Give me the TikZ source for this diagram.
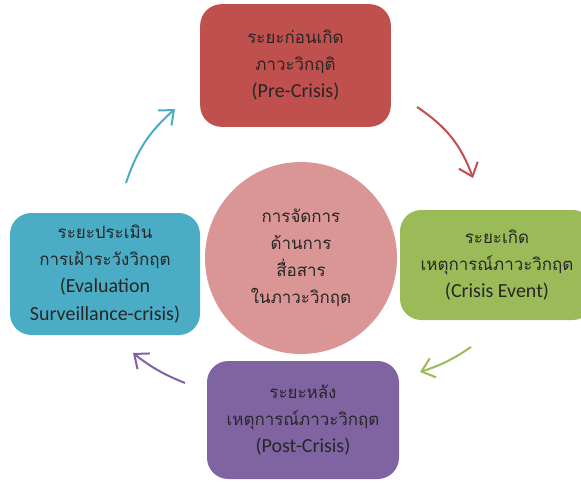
\documentclass[tikz,border=0pt]{standalone}
\usepackage{fontspec}
\setmainfont{Carlito}[Scale=1.18]
\newfontfamily\thaifont[Script=Thai]{Loma}
\usetikzlibrary{arrows.meta}
\definecolor{prered}{HTML}{C0504D}
\definecolor{eventgreen}{HTML}{9BBB59}
\definecolor{postpurple}{HTML}{8064A2}
\definecolor{evalblue}{HTML}{4BACC6}
\definecolor{hubpink}{HTML}{D99694}
\begin{document}
\begin{tikzpicture}[
			x=0.75pt, y=-0.75pt,
			every node/.style={inner sep=2pt, text=black!85, font=\fontsize{12.7}{20.3}\selectfont},
			phase/.style={rounded corners=16pt, align=center},
			hub/.style={circle, fill=hubpink, minimum size=144pt, align=center},
			cycle arrow/.style={line width=1.5pt, -{Straight Barb[length=9pt, width=15pt]}}
		]
		\clip (0,0) rectangle (581,482);
		% the four phases
		\node[phase, fill=prered, minimum width=143pt, minimum height=92pt] (pre) at (295.5,65.5)
			{\thaifont ระยะก่อนเกิด\\\thaifont ภาวะวิกฤติ\\(Pre-Crisis)};
		\node[phase, fill=eventgreen, minimum width=145.5pt, minimum height=82.5pt] (event) at (497,265)
			{\thaifont ระยะเกิด\\\thaifont เหตุการณ์ภาวะวิกฤต\\(Crisis Event)};
		\node[phase, fill=postpurple, minimum width=144pt, minimum height=88.5pt] (post) at (303,420)
			{\thaifont ระยะหลัง\\\thaifont เหตุการณ์ภาวะวิกฤต\\(Post-Crisis)};
		\node[phase, fill=evalblue, minimum width=142.5pt, minimum height=91.5pt] (eval) at (105,274)
			{\thaifont ระยะประเมิน\\\thaifont การเฝ้าระวังวิกฤต\\(Evaluation\\Surveillance-crisis)};
		% centre
		\node[hub] (hub) at (301,258)
			{\thaifont การจัดการ\\\thaifont ด้านการ\\\thaifont สื่อสาร\\\thaifont ในภาวะวิกฤต};
		% arrows between phases
		\coordinate (pre out) at (417,107);
		\coordinate (event in) at (473,178);
		\coordinate (event out) at (471,347);
		\coordinate (post in) at (420,372);
		\coordinate (post out) at (185,383);
		\coordinate (eval in) at (133,353);
		\coordinate (eval out) at (126,183);
		\coordinate (pre in) at (175,109);
		\draw[cycle arrow, prered] (pre out) to[bend left=18] (event in);
		\draw[cycle arrow, eventgreen] (event out) to[bend left=8] (post in);
		\draw[cycle arrow, postpurple] (post out) to[bend left=8] (eval in);
		\draw[cycle arrow, evalblue] (eval out) to[bend left=15] (pre in);
	\end{tikzpicture}
\end{document}
